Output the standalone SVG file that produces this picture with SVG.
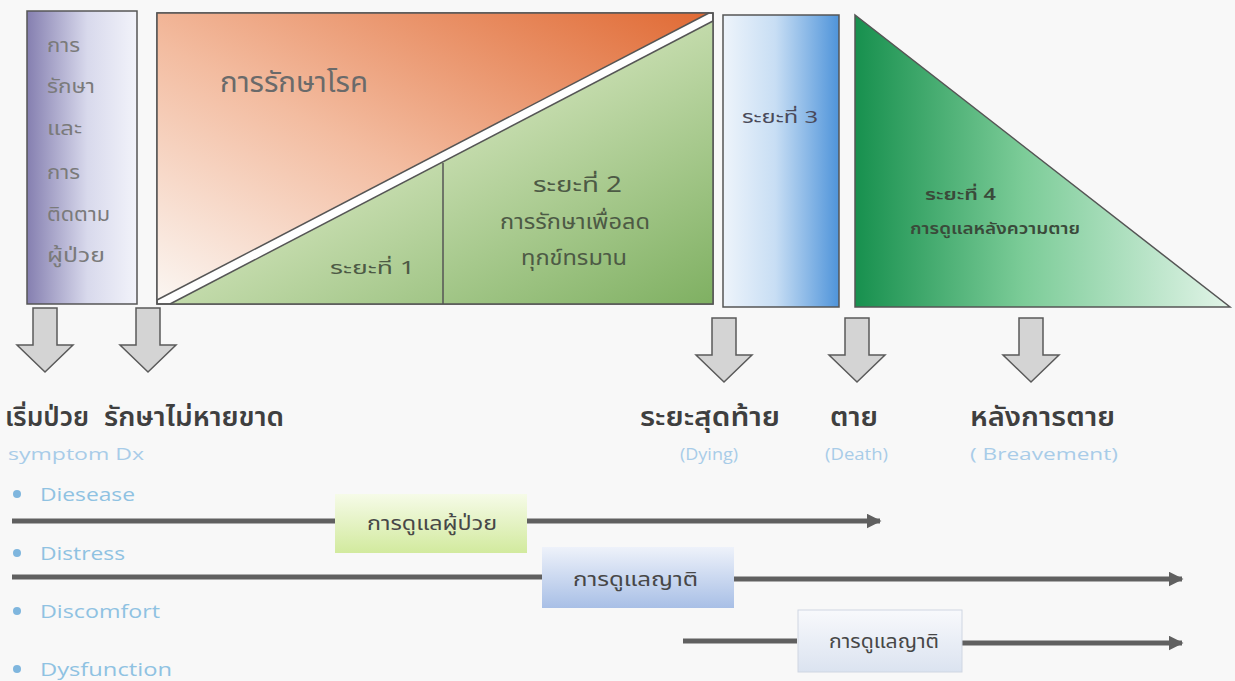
<svg xmlns="http://www.w3.org/2000/svg" width="1235" height="681" viewBox="0 0 1235 681">
<defs>
<style>
.th{font-family:"Noto Sans Thai","Tahoma","Liberation Sans","DejaVu Sans",sans-serif}
.en{font-family:"Open Sans","Liberation Sans",sans-serif}
.outline{stroke:#555;stroke-width:1.5}
.small{font-size:19px;fill:#7a7a7a}
.lbl{font-size:26px;fill:#3f3f3f;font-weight:600}
.sub{font-size:17px;fill:#a8cce8}
.bul{font-size:18px;fill:#8fc2e2}
.box{font-size:20px;fill:#474747}
.bar{stroke:#606060;stroke-width:5}
.dot{fill:#7fb6de}
.blk{fill:#d4d4d4;stroke:#5a5a5a;stroke-width:1.5}
</style>
<linearGradient id="gLeft" x1="0" y1="0" x2="1" y2="0">
<stop offset="0" stop-color="#857fb0"/><stop offset="0.55" stop-color="#d8d9ec"/><stop offset="1" stop-color="#f2f3fa"/>
</linearGradient>
<linearGradient id="gOrange" x1="0" y1="1" x2="1" y2="0">
<stop offset="0" stop-color="#fbf6f2"/><stop offset="0.45" stop-color="#f3bca0"/><stop offset="1" stop-color="#e06a34"/>
</linearGradient>
<linearGradient id="gGreen" x1="0" y1="0" x2="1" y2="1">
<stop offset="0" stop-color="#e6efdc"/><stop offset="0.5" stop-color="#c2daaa"/><stop offset="1" stop-color="#7fb062"/>
</linearGradient>
<linearGradient id="gBlue" x1="0" y1="0" x2="1" y2="0">
<stop offset="0" stop-color="#eef4fb"/><stop offset="0.45" stop-color="#c8def4"/><stop offset="1" stop-color="#4f94da"/>
</linearGradient>
<linearGradient id="gDG" x1="0" y1="0" x2="1" y2="0">
<stop offset="0" stop-color="#17904e"/><stop offset="0.45" stop-color="#7ccc98"/><stop offset="1" stop-color="#e2f4e8"/>
</linearGradient>
<linearGradient id="gBox1" x1="0" y1="0" x2="0" y2="1">
<stop offset="0" stop-color="#f6fbe8"/><stop offset="1" stop-color="#d2ea9e"/>
</linearGradient>
<linearGradient id="gBox2" x1="0" y1="0" x2="0" y2="1">
<stop offset="0" stop-color="#eef2fa"/><stop offset="1" stop-color="#a8bfe6"/>
</linearGradient>
<linearGradient id="gBox3" x1="0" y1="0" x2="0" y2="1">
<stop offset="0" stop-color="#f8f9fc"/><stop offset="1" stop-color="#dbe3f0"/>
</linearGradient>
<path id="blockArrow" d="M-12,0 H12 V37 H28 L0,64 L-28,37 H-12 Z"/>
<marker id="ah" viewBox="0 0 10 10" refX="9" refY="5" markerWidth="3" markerHeight="3" orient="auto" markerUnits="strokeWidth">
<path d="M0,0 L10,5 L0,10 Z" fill="#606060"/>
</marker>
</defs>
<rect width="1235" height="681" fill="#f8f8f8"/>

<g id="node-left">
<rect x="27" y="11" width="110" height="293" fill="url(#gLeft)" class="outline"/>
<g class="th small" lengthAdjust="spacingAndGlyphs">
<text x="47" y="52" textLength="33" lengthAdjust="spacingAndGlyphs">การ</text>
<text x="47" y="93" textLength="48" lengthAdjust="spacingAndGlyphs">รักษา</text>
<text x="47" y="135" textLength="35" lengthAdjust="spacingAndGlyphs">และ</text>
<text x="47" y="179" textLength="33" lengthAdjust="spacingAndGlyphs">การ</text>
<text x="47" y="221" textLength="63" lengthAdjust="spacingAndGlyphs">ติดตาม</text>
<text x="47" y="262" textLength="58" lengthAdjust="spacingAndGlyphs">ผู้ป่วย</text>
</g>
</g>

<g id="node-treatment">
<rect x="157" y="13" width="556" height="291" fill="#ffffff" class="outline"/>
<polygon points="157,13 709,13 157,300" fill="url(#gOrange)"/>
<polygon points="170,304 713,304 713,21" fill="url(#gGreen)"/>
<line x1="157" y1="300" x2="709" y2="13" class="outline"/>
<line x1="170" y1="304" x2="713" y2="21" class="outline"/>
<rect x="157" y="13" width="556" height="291" fill="none" class="outline"/>
<line x1="443" y1="163" x2="443" y2="304" class="outline"/>
<text x="220" y="92" class="th" font-size="28" fill="#6a6a6a" textLength="148" lengthAdjust="spacingAndGlyphs">การรักษาโรค</text>
<text x="330" y="274" class="th" font-size="18" fill="#4d5a45" textLength="85" lengthAdjust="spacingAndGlyphs">ระยะที่ 1</text>
<g class="th" font-size="21" fill="#4d5a45">
<text x="533" y="192" textLength="89" lengthAdjust="spacingAndGlyphs">ระยะที่ 2</text>
<text x="500" y="229" textLength="150" lengthAdjust="spacingAndGlyphs">การรักษาเพื่อลด</text>
<text x="521" y="265" textLength="106" lengthAdjust="spacingAndGlyphs">ทุกข์ทรมาน</text>
</g>
</g>

<g id="node-phase3">
<rect x="723" y="15" width="116" height="292" fill="url(#gBlue)" class="outline"/>
<text x="742" y="123" class="th" font-size="17" fill="#4a4a5a" textLength="76" lengthAdjust="spacingAndGlyphs">ระยะที่ 3</text>
</g>

<g id="node-phase4">
<polygon points="855,15 855,307 1230,307" fill="url(#gDG)" class="outline"/>
<text x="925" y="200" class="th" font-size="16" font-weight="600" fill="#3a4a3a" textLength="71" lengthAdjust="spacingAndGlyphs">ระยะที่ 4</text>
<text x="910" y="234" class="th" font-size="16" font-weight="600" fill="#3a4a3a" textLength="170" lengthAdjust="spacingAndGlyphs">การดูแลหลังความตาย</text>
</g>

<g id="connectors">
<use href="#blockArrow" x="45" y="308" class="blk"/>
<use href="#blockArrow" x="148" y="308" class="blk"/>
<use href="#blockArrow" x="724" y="318" class="blk"/>
<use href="#blockArrow" x="857" y="318" class="blk"/>
<use href="#blockArrow" x="1031" y="318" class="blk"/>
<line x1="12" y1="521" x2="335" y2="521" class="bar"/>
<line x1="527" y1="521" x2="880" y2="521" class="bar" marker-end="url(#ah)"/>
<line x1="12" y1="577" x2="542" y2="577" class="bar"/>
<line x1="734" y1="579" x2="1182" y2="579" class="bar" marker-end="url(#ah)"/>
<line x1="683" y1="641" x2="797" y2="641" class="bar"/>
<line x1="962" y1="643" x2="1182" y2="643" class="bar" marker-end="url(#ah)"/>
</g>

<g id="labels">
<text x="5" y="426" class="th lbl" textLength="84" lengthAdjust="spacingAndGlyphs">เริ่มป่วย</text>
<text x="104" y="426" class="th lbl" textLength="180" lengthAdjust="spacingAndGlyphs">รักษาไม่หายขาด</text>
<text x="640" y="426" class="th lbl" textLength="140" lengthAdjust="spacingAndGlyphs">ระยะสุดท้าย</text>
<text x="830" y="426" class="th lbl" textLength="48" lengthAdjust="spacingAndGlyphs">ตาย</text>
<text x="970" y="426" class="th lbl" textLength="145" lengthAdjust="spacingAndGlyphs">หลังการตาย</text>
<text x="8" y="460" class="en sub" textLength="136" lengthAdjust="spacingAndGlyphs">symptom Dx</text>
<text x="680" y="460" class="en sub" textLength="58" lengthAdjust="spacingAndGlyphs">(Dying)</text>
<text x="825" y="460" class="en sub" textLength="63" lengthAdjust="spacingAndGlyphs">(Death)</text>
<text x="970" y="460" class="en sub" textLength="148" lengthAdjust="spacingAndGlyphs">( Breavement)</text>
</g>

<g id="bullets">
<circle cx="17" cy="494" r="4" class="dot"/>
<circle cx="17" cy="553" r="4" class="dot"/>
<circle cx="17" cy="611" r="4" class="dot"/>
<circle cx="17" cy="669" r="4" class="dot"/>
<text x="40" y="501" class="en bul" textLength="95" lengthAdjust="spacingAndGlyphs">Diesease</text>
<text x="40" y="560" class="en bul" textLength="85" lengthAdjust="spacingAndGlyphs">Distress</text>
<text x="40" y="618" class="en bul" textLength="120" lengthAdjust="spacingAndGlyphs">Discomfort</text>
<text x="40" y="676" class="en bul" textLength="132" lengthAdjust="spacingAndGlyphs">Dysfunction</text>
</g>

<g id="node-care-patient">
<rect x="335" y="494" width="192" height="59" fill="url(#gBox1)"/>
<text x="367" y="530" class="th box" textLength="130" lengthAdjust="spacingAndGlyphs">การดูแลผู้ป่วย</text>
</g>
<g id="node-care-family1">
<rect x="542" y="547" width="192" height="61" fill="url(#gBox2)"/>
<text x="573" y="586" class="th box" textLength="125" lengthAdjust="spacingAndGlyphs">การดูแลญาติ</text>
</g>
<g id="node-care-family2">
<rect x="798" y="610" width="164" height="62" fill="url(#gBox3)" stroke="#cfd6e2" stroke-width="1"/>
<text x="829" y="648" class="th box" textLength="110" lengthAdjust="spacingAndGlyphs">การดูแลญาติ</text>
</g>
</svg>
